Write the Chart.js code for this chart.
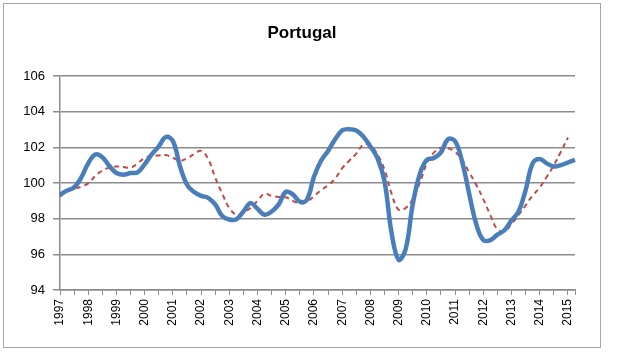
<!DOCTYPE html>
<html>
<head>
<meta charset="utf-8">
<script src="https://cdn.jsdelivr.net/npm/chart.js@4/dist/chart.umd.min.js"></script>
<style>
  html, body { margin: 0; padding: 0; background: #fff; }
  #wrap { width: 628px; height: 354px; }
</style>
</head>
<body>
<div id="wrap"><canvas id="myChart" width="628" height="354"></canvas></div>
<script>
// years shown on the x axis, data is quarterly (1997Q1 - 2015Q2)
const years = [1997, 1998, 1999, 2000, 2001, 2002, 2003, 2004, 2005, 2006,
    2007, 2008, 2009, 2010, 2011, 2012, 2013, 2014, 2015];
const quartersInLastYear = 2;

// solid blue series
const blueSeries = [
    99.34, 99.58, 99.75, 100.3, 101.1, 101.6, 101.45, 100.95,
    100.56, 100.46, 100.56, 100.6, 101.05, 101.6, 102.05, 102.58,
    102.35, 100.95, 99.9, 99.5, 99.28, 99.17, 98.8, 98.15,
    97.95, 97.97, 98.4, 98.87, 98.55, 98.22, 98.4, 98.8,
    99.5, 99.36, 98.95, 99.06, 100.35, 101.25, 101.8, 102.45,
    102.95, 103.02, 102.95, 102.6, 102.05, 101.4, 100.1, 97.2,
    95.7, 96.3, 98.8, 100.5, 101.3, 101.4, 101.72, 102.45,
    102.35, 101.2, 99.4, 97.7, 96.8, 96.8, 97.1, 97.35,
    97.9, 98.4, 99.6, 101.1, 101.35, 101.1, 100.93, 101.0,
    101.15, 101.3
];

// dashed red series
const redSeries = [
    99.24, 99.52, 99.66, 99.8, 99.98, 100.4, 100.7, 100.86,
    100.93, 100.9, 100.85, 101.1, 101.4, 101.52, 101.54, 101.57,
    101.42, 101.25, 101.38, 101.62, 101.8, 101.35, 100.3, 99.4,
    98.6, 98.22, 98.35, 98.6, 99.0, 99.4, 99.27, 99.22,
    99.2, 99.0, 98.85, 98.95, 99.26, 99.6, 99.87, 100.25,
    100.83, 101.25, 101.65, 102.15, 102.1, 101.6, 100.75, 99.4,
    98.5, 98.6, 99.1, 100.0, 101.1, 101.7, 101.98, 101.95,
    101.75, 101.3, 100.6, 99.9, 99.1, 98.2, 97.4, 97.3,
    97.7, 98.2, 98.75, 99.3, 99.75, 100.35, 101.0, 101.75,
    102.55, null
];

const yTicks = [94, 96, 98, 100, 102, 104, 106];

let labels = [];
years.forEach(function (y, i) {
    const n = (i === years.length - 1) ? quartersInLastYear : 4;
    for (let q = 1; q <= n; q++) {
        labels.push(y + 'Q' + q);
    }
});

const gridGray = '#8c8c8c';

const frame = {
    id: 'frame',
    afterDraw(chart) {
        const ctx = chart.ctx;
        ctx.save();
        ctx.strokeStyle = '#a6a6a6';
        ctx.lineWidth = 1;
        ctx.strokeRect(3.5, 3.5, 597, 344);
        ctx.restore();
    }
};

const drawChart = function () {
    let ctx = document.getElementById('myChart').getContext('2d');

    new Chart(ctx, {
        type: 'line',
        data: {
            labels: labels,
            datasets: [
                {
                    label: 'Portugal',
                    data: blueSeries,
                    borderColor: '#4a7ebb',
                    borderWidth: 4.5,
                    pointRadius: 0,
                    tension: 0.4,
                    fill: false
                },
                {
                    label: 'trend',
                    data: redSeries,
                    borderColor: '#be4b48',
                    borderWidth: 2,
                    borderDash: [5, 4],
                    pointRadius: 0,
                    tension: 0.4,
                    fill: false
                }
            ]
        },
        options: {
            responsive: false,
            animation: false,
            layout: { padding: { left: 0, right: 24, top: 0, bottom: 14 } },
            plugins: {
                legend: { display: false },
                tooltip: { enabled: false },
                title: {
                    display: true,
                    text: 'Portugal',
                    color: '#000',
                    font: { family: 'Liberation Sans', size: 17, weight: 'bold' },
                    padding: { top: 23, bottom: 32.6 }
                }
            },
            scales: {
                x: {
                    afterFit: function (scale) { scale.height = 50; },
                    grid: {
                        drawOnChartArea: false,
                        tickLength: 5,
                        lineWidth: 1,
                        tickColor: function (c) {
                            return (c.index % 2 === 0 || c.index === labels.length - 1) ? gridGray : 'rgba(0,0,0,0)';
                        }
                    },
                    border: { color: gridGray, width: 1.5 },
                    ticks: {
                        autoSkip: false,
                        minRotation: 90,
                        maxRotation: 90,
                        padding: 4,
                        color: '#000',
                        font: { family: 'Liberation Sans', size: 12 },
                        callback: function (v, i) {
                            return i % 4 === 0 ? years[i / 4] : '';
                        }
                    }
                },
                y: {
                    min: yTicks[0],
                    max: yTicks[yTicks.length - 1],
                    afterFit: function (scale) { scale.width = 60; },
                    afterBuildTicks: function (scale) {
                        scale.ticks = yTicks.map(function (v) { return { value: v }; });
                    },
                    grid: {
                        color: gridGray,
                        lineWidth: 1.5,
                        tickLength: 7
                    },
                    border: { color: gridGray, width: 1.5 },
                    ticks: {
                        padding: 8,
                        color: '#000',
                        font: { family: 'Liberation Sans', size: 13 }
                    }
                },
                // empty spacer on the right so the title sits where it does in the original
                spacer: {
                    type: 'linear',
                    position: 'right',
                    display: true,
                    afterFit: function (scale) { scale.width = 29; },
                    grid: { display: false },
                    border: { display: false },
                    ticks: { display: false }
                }
            }
        },
        plugins: [frame]
    });
};

document.addEventListener('DOMContentLoaded', function () {
    drawChart();
});
</script>
</body>
</html>
